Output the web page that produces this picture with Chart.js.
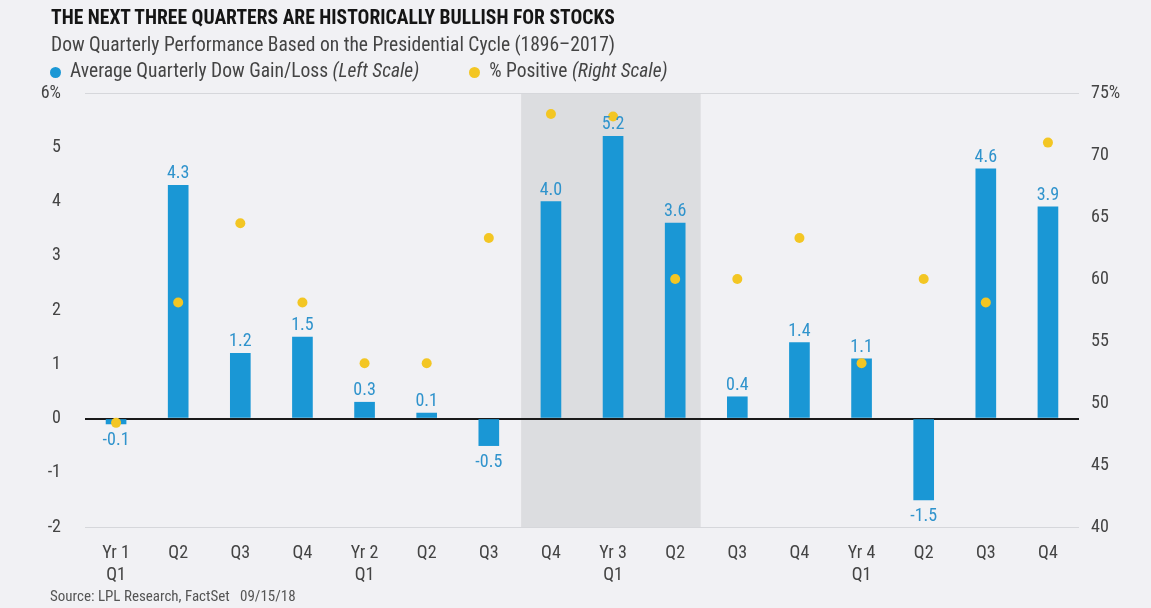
<!DOCTYPE html>
<html lang="en">
<head>
<meta charset="UTF-8" />
<title>Dow Quarterly Performance</title>
<script src="https://cdn.jsdelivr.net/npm/chart.js@4.4.1/dist/chart.umd.min.js"></script>
<style>
  html, body { margin: 0; padding: 0; background: #f1f1f4; }
  body { width: 1151px; height: 608px; position: relative; overflow: hidden;
    font-family: "Liberation Sans Narrow", "Roboto Condensed", "DejaVu Sans Condensed", Roboto, sans-serif; }
  #myChart { position: absolute; left: 0; top: 0; }
  .txt { position: absolute; white-space: nowrap; }
  #title { left: 51px; top: 6px; font-size: 19.6px; font-weight: bold; color: #151515; }
  #subtitle { left: 51px; top: 33px; font-size: 19.5px; color: #444; }
  #legend { left: 50px; top: 59px; font-size: 19.5px; color: #444; }
  #legend i { font-style: italic; }
  .dot { display: inline-block; width: 11px; height: 11px; border-radius: 50%; margin-right: 9px; vertical-align: -1px; }
  #source { left: 50px; top: 587px; font-size: 15px; color: #555; }
</style>
</head>
<body>
<canvas id="myChart" width="1151" height="608"></canvas>
<div class="txt" id="title">THE NEXT THREE QUARTERS ARE HISTORICALLY BULLISH FOR STOCKS</div>
<div class="txt" id="subtitle">Dow Quarterly Performance Based on the Presidential Cycle (1896–2017)</div>
<div class="txt" id="legend"><span class="dot" style="background:#1a97d5"></span>Average Quarterly Dow Gain/Loss <i>(Left Scale)</i><span style="display:inline-block;width:50px"></span><span class="dot" style="background:#f3c623"></span>% Positive <i>(Right Scale)</i></div>
<div class="txt" id="source">Source: LPL Research, FactSet&nbsp;&nbsp; 09/15/18</div>

<script>
  const quarters = [
    ["Yr 1", "Q1"], "Q2", "Q3", "Q4",
    ["Yr 2", "Q1"], "Q2", "Q3", "Q4",
    ["Yr 3", "Q1"], "Q2", "Q3", "Q4",
    ["Yr 4", "Q1"], "Q2", "Q3", "Q4",
  ];
  const avgGain = [-0.1, 4.3, 1.2, 1.5, 0.3, 0.1, -0.5, 4.0, 5.2, 3.6, 0.4, 1.4, 1.1, -1.5, 4.6, 3.9];
  const pctPositive = [48.4, 58.1, 64.5, 58.1, 53.2, 53.2, 63.3, 73.3, 73.1, 60.0, 60.0, 63.3, 53.2, 60.0, 58.1, 71.0];
  const shadedFrom = 7; // Yr 2 Q4
  const shadedTo = 9;   // Yr 3 Q2

  const narrow = '"Liberation Sans Narrow", "Roboto Condensed", "DejaVu Sans Condensed", Roboto, sans-serif';

  // grey band behind the "next three quarters"
  const bandPlugin = {
    id: "band",
    beforeDraw(chart) {
      const { ctx, chartArea, scales } = chart;
      const x = scales.x;
      const w = x.getPixelForValue(1) - x.getPixelForValue(0);
      const left = x.getPixelForValue(shadedFrom) - 0.48 * w;
      const right = x.getPixelForValue(shadedTo) + 0.41 * w;
      ctx.save();
      ctx.fillStyle = "#dcdde0";
      ctx.fillRect(left, chartArea.top, right - left, chartArea.bottom - chartArea.top);
      ctx.restore();
    },
  };

  // value labels above / below each bar
  const barLabels = {
    id: "barLabels",
    afterDatasetsDraw(chart) {
      const { ctx } = chart;
      const meta = chart.getDatasetMeta(0);
      ctx.save();
      ctx.font = "18px " + narrow;
      ctx.fillStyle = "#2f93cc";
      ctx.textAlign = "center";
      meta.data.forEach((bar, i) => {
        const v = avgGain[i];
        if (v >= 0) {
          ctx.textBaseline = "alphabetic";
          ctx.fillText(v.toFixed(1), bar.x, bar.y - 7);
        } else {
          ctx.textBaseline = "top";
          ctx.fillText(v.toFixed(1), bar.x, bar.y + 8);
        }
      });
      ctx.restore();
    },
  };

  const ctx = document.getElementById("myChart").getContext("2d");
  new Chart(ctx, {
    type: "bar",
    data: {
      labels: quarters,
      datasets: [
        {
          label: "Average Quarterly Dow Gain/Loss",
          data: avgGain,
          backgroundColor: "#1a97d5",
          barThickness: 20,
          yAxisID: "y",
          order: 1,
        },
        {
          type: "line",
          label: "% Positive",
          data: pctPositive,
          showLine: false,
          pointRadius: 5,
          pointBorderWidth: 0,
          pointBackgroundColor: "#f3c623",
          yAxisID: "y2",
          order: 0,
        },
      ],
    },
    options: {
      responsive: false,
      animation: false,
      layout: { padding: { top: 93, left: 0, right: 0, bottom: 0 } },
      plugins: { legend: { display: false }, tooltip: { enabled: false } },
      scales: {
        x: {
          grid: { display: false },
          border: { display: false },
          ticks: { color: "#444", font: { family: narrow, size: 18 }, padding: 8, maxRotation: 0 },
          afterFit(scale) { scale.height = 81; },
        },
        y: {
          position: "left",
          min: -2,
          max: 6,
          border: { display: false },
          grid: {
            drawTicks: false,
            color: (c) => (c.tick.value === 0 ? "#1a1a1a" : (c.tick.value === 6 || c.tick.value === -2) ? "#d6d7db" : "rgba(0,0,0,0)"),
            lineWidth: (c) => (c.tick.value === 0 ? 2 : 1),
          },
          ticks: {
            stepSize: 1,
            color: "#444",
            font: { family: narrow, size: 18 },
            padding: 24,
            callback: (v) => (v === 6 ? "6%" : v),
          },
          afterFit(scale) { scale.width = 85; },
        },
        y2: {
          position: "right",
          min: 40,
          max: 75,
          border: { display: false },
          grid: { display: false, drawTicks: false },
          ticks: {
            stepSize: 5,
            color: "#444",
            font: { family: narrow, size: 18 },
            padding: 12,
            callback: (v) => (v === 75 ? "75%" : v),
          },
          afterFit(scale) { scale.width = 72; },
        },
      },
    },
    plugins: [bandPlugin, barLabels],
  });
</script>
</body>
</html>
